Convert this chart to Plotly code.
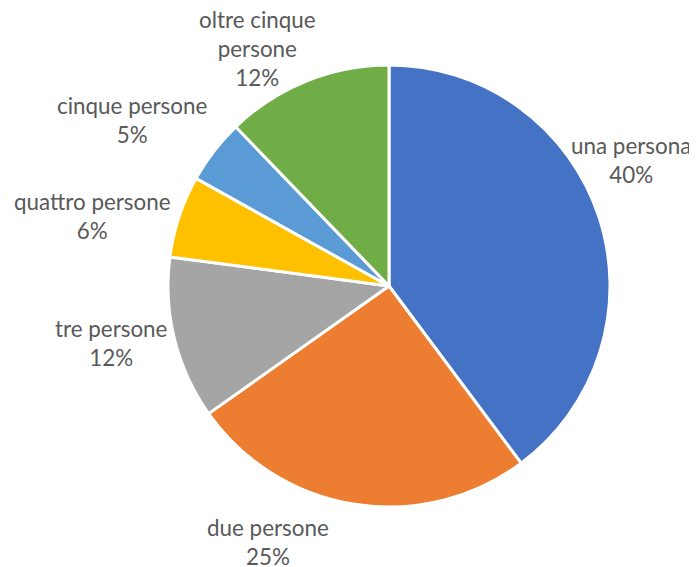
import plotly.graph_objects as go

labels = ["una persona", "due persone", "tre persone", "quattro persone", "cinque persone", "oltre cinque persone"]
values = [39.8, 25.4, 11.9, 6.0, 4.7, 12.2]
colors = ["#4472C4", "#ED7D31", "#A5A5A5", "#FFC000", "#5B9BD5", "#70AD47"]

# label layout (text block centres in pixels from top-left of the window) and line breaks
label_text = ["una persona", "due persone", "tre persone", "quattro persone", "cinque persone", "oltre cinque<br>persone"]
label_pos = [(631, 160), (268, 542), (111, 343), (92, 216), (132, 120), (257, 48)]

W, H = 697, 567
OFF = 8  # page body margin: figure origin sits at (8, 8) in the window

def fx(px):
    return (px - OFF) / W

def fy(py):
    return 1 - (py - OFF) / H

total = sum(values)

fig = go.Figure(go.Pie(
    labels=labels,
    values=values,
    sort=False,
    direction="clockwise",
    rotation=0,
    marker=dict(colors=colors, line=dict(color="white", width=3)),
    textinfo="none",
    domain=dict(x=[fx(168), fx(610)], y=[fy(507), fy(65)]),
    showlegend=False,
    hoverinfo="label+percent",
))

for txt, v, (px, py) in zip(label_text, values, label_pos):
    fig.add_annotation(
        x=fx(px), y=fy(py), xref="paper", yref="paper",
        xanchor="center", yanchor="middle",
        text=f"{txt}<br>{round(v / total * 100)}%",
        showarrow=False, align="center",
        font=dict(family="Lato, Carlito, Calibri, sans-serif", size=22.4, color="#595959"),
    )

fig.update_layout(
    width=W, height=H,
    margin=dict(l=0, r=0, t=0, b=0),
    paper_bgcolor="white",
)
fig.write_html("out.html")
